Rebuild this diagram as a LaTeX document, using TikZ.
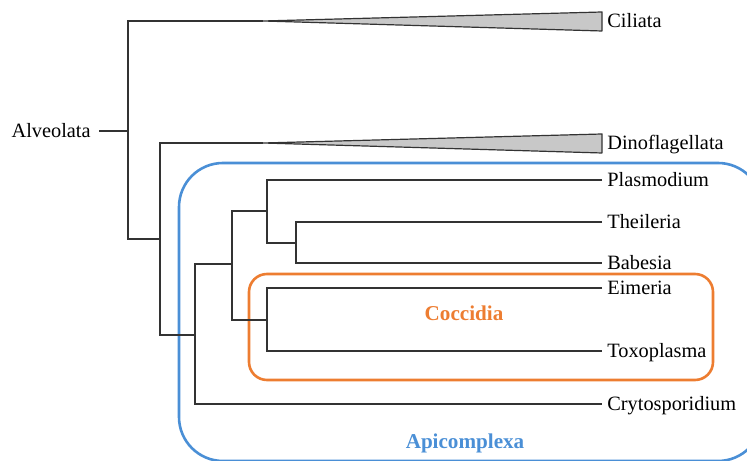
\documentclass[tikz,border=0pt]{standalone}
\usepackage{fontspec}
\setmainfont{Liberation Serif}
\definecolor{apiblue}{RGB}{74,143,214}
\definecolor{cocorange}{RGB}{237,125,49}
\definecolor{wedgegray}{RGB}{200,200,200}
\begin{document}
\begin{tikzpicture}[x=0.5bp,y=-0.5bp,
  taxon/.style={anchor=west,inner sep=2.5bp,text height=0.66em,text depth=0pt,font=\fontsize{10.2}{12}\selectfont},
  branch/.style={line width=0.65bp,draw=black!80},
  wedge/.style={fill=wedgegray,draw=black!80,line width=0.6bp,line join=round},
  groupbox/.style={line width=1.3bp},
  grouplabel/.style={font=\fontsize{10.6}{12}\selectfont\bfseries}]
\useasboundingbox (0,0) rectangle (747,461);
\clip (0,0) rectangle (747,461);
\draw[groupbox,apiblue,rounded corners=22bp] (179,163) rectangle (762,461);
\draw[groupbox,cocorange,rounded corners=9bp] (249,274) rectangle (713,380);
\node[grouplabel,text=apiblue] (api) at (465,443) {Apicomplexa};
\node[grouplabel,text=cocorange] (coc) at (464,313) {Coccidia};
\node[taxon,anchor=east] (alv) at (96,131) {Alveolata};
\node[taxon] (cil) at (602,21) {Ciliata};
\node[taxon] (dino) at (602,143) {Dinoflagellata};
\node[taxon] (plas) at (602,180) {Plasmodium};
\node[taxon] (thei) at (602,222) {Theileria};
\node[taxon] (babe) at (602,263) {Babesia};
\node[taxon] (eime) at (602,288) {Eimeria};
\node[taxon] (toxo) at (602,351) {Toxoplasma};
\node[taxon] (cryt) at (602,404) {Crytosporidium};
\coordinate (ciltip) at (263,21);
\coordinate (dinotip) at (263,143);
\coordinate (root) at (128,239);
\coordinate (n1) at (160,239);
\coordinate (n2) at (195,335);
\coordinate (n3) at (232,264);
\coordinate (n4) at (267,211);
\coordinate (n5) at (296,243);
\coordinate (n6) at (267,320);
\filldraw[wedge] (ciltip) -- (602,12) -- (602,31) -- cycle;
\filldraw[wedge] (dinotip) -- (602,134) -- (602,153) -- cycle;
\draw[branch] (alv.east) ++(3,0) -- (alv.east -| root);
\draw[branch] (ciltip) -| (root) |- (n1);
\draw[branch] (dinotip) -| (n1) |- (n2);
\draw[branch] (n3) -| (n2) |- (cryt.west);
\draw[branch] (n4) -| (n3) |- (n6);
\draw[branch] (plas.west) -| (n4) |- (n5);
\draw[branch] (thei.west) -| (n5) |- (babe.west);
\draw[branch] (eime.west) -| (n6) |- (toxo.west);
\end{tikzpicture}
\end{document}
